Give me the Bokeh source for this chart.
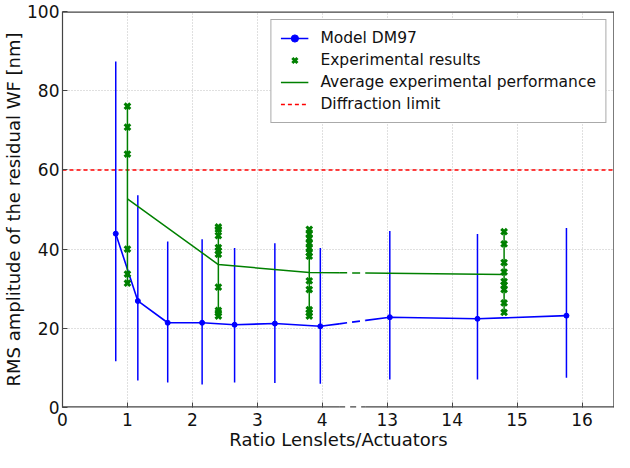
from bokeh.plotting import figure
from bokeh.models import FixedTicker, Legend, LegendItem, Range1d, Span
from bokeh.embed import file_html
from bokeh.resources import INLINE

# ---------------- data ----------------
TICK_VALUES = [0, 1, 2, 3, 4, 13, 14, 15, 16]
TICK_LABELS = ["0", "1", "2", "3", "4", "13", "14", "15", "16"]
Y_TICKS = [0, 20, 40, 60, 80, 100]

model_x = [0.82, 1.16, 1.62, 2.15, 2.65, 3.27, 3.97, 13.04, 14.39, 15.76]
model_y = [43.9, 26.9, 21.4, 21.4, 20.9, 21.2, 20.5, 22.8, 22.4, 23.2]
model_hi = [87.4, 53.6, 41.9, 42.5, 40.3, 41.5, 40.3, 44.6, 43.8, 45.3]
model_lo = [11.7, 6.8, 6.3, 5.8, 6.3, 6.2, 6.0, 7.1, 7.1, 7.5]

exp_x = [1.0, 2.4, 3.8, 14.8]
exp_values = [
    [76.1, 70.8, 64.0, 40.0, 33.7, 31.4],
    [45.6, 45.0, 43.4, 40.4, 39.6, 38.7, 30.4, 24.5, 23.9, 23.1],
    [45.0, 43.8, 42.7, 41.5, 40.3, 39.1, 38.2, 32.0, 29.8, 24.7, 23.9, 23.1],
    [44.4, 41.3, 36.6, 34.2, 31.8, 30.9, 29.8, 26.4, 24.0],
]
avg_y = [52.7, 36.1, 34.1, 33.6]

DIFFRACTION_LIMIT = 60

# broken x axis: real x up to BREAK_LEFT shown as-is, real x from BREAK_RIGHT shifted left
BREAK_LEFT = 4.26
BREAK_RIGHT = 12.67
SHIFT = 8
X_MAX = 16.5

# ---------------- helpers ----------------
def pos(x):
    return x if x <= BREAK_LEFT else x - SHIFT

GAP_LO = BREAK_LEFT
GAP_HI = BREAK_RIGHT - SHIFT
X_END = X_MAX - SHIFT


def split(xs, ys):
    px = [pos(x) for x in xs]
    left = [(a, b) for a, b in zip(px, ys) if a <= GAP_LO]
    right = [(a, b) for a, b in zip(px, ys) if a >= GAP_HI]
    (x0, y0), (x1, y1) = left[-1], right[0]
    ya = y0 + (y1 - y0) * (GAP_LO - x0) / (x1 - x0)
    yb = y0 + (y1 - y0) * (GAP_HI - x0) / (x1 - x0)
    left = left + [(GAP_LO, ya)]
    right = [(GAP_HI, yb)] + right
    dashed = [(GAP_LO, ya), (GAP_HI, yb)]
    unz = lambda pts: ([p[0] for p in pts], [p[1] for p in pts])
    return unz(left), unz(dashed), unz(right)


FONT = "DejaVu Sans"
BLUE = "#0000ff"
GREEN = "#008000"
SPINE = "#444444"

p = figure(width=614, height=452, output_backend="svg", toolbar_location=None,
           x_range=Range1d(0, X_END), y_range=Range1d(0, 100),
           min_border_top=11, min_border_right=0, min_border_left=0, min_border_bottom=0)
p.outline_line_color = None
p.background_fill_color = "white"
p.border_fill_color = "white"

# axes
p.xaxis.ticker = FixedTicker(ticks=[pos(t) for t in TICK_VALUES])
p.xaxis.major_label_overrides = {pos(t): lab for t, lab in zip(TICK_VALUES, TICK_LABELS)}
p.yaxis.ticker = FixedTicker(ticks=Y_TICKS)
p.xaxis.axis_label = "Ratio Lenslets/Actuators"
p.yaxis.axis_label = "RMS amplitude of the residual WF [nm]"
for ax in (p.xaxis, p.yaxis):
    ax.axis_label_text_font = FONT
    ax.axis_label_text_font_size = "18px"
    ax.axis_label_text_font_style = "normal"
    ax.axis_label_text_color = "#111111"
    ax.major_label_text_font = FONT
    ax.major_label_text_font_size = "17px"
    ax.major_label_text_color = "#111111"
    ax.major_tick_in = 5
    ax.major_tick_out = 0
    ax.major_tick_line_color = SPINE
    ax.minor_tick_line_color = None
    ax.axis_label_standoff = 0
    ax.major_label_standoff = 3
p.xaxis.axis_line_color = None
p.yaxis.axis_line_color = SPINE
p.yaxis.axis_line_width = 1.2
p.xaxis.major_label_standoff = 5

p.xgrid.ticker = p.xaxis.ticker
p.ygrid.ticker = p.yaxis.ticker
for g in (p.xgrid, p.ygrid):
    g.grid_line_color = "#c0c0c0"
    g.grid_line_dash = "1 2"
    g.grid_line_width = 1

# spines (top, right, broken bottom)
p.add_layout(Span(location=100, dimension="width", line_color=SPINE, line_width=2.4))
p.add_layout(Span(location=X_END, dimension="height", line_color=SPINE, line_width=2.4))
p.line([0, GAP_LO], [0, 0], line_color=SPINE, line_width=2.4)
p.line([GAP_LO, GAP_HI], [0, 0], line_color=SPINE, line_width=2.4, line_dash="6 5")
p.line([GAP_HI, X_END], [0, 0], line_color=SPINE, line_width=2.4)

# diffraction limit
r_diff = p.line([0, X_END], [DIFFRACTION_LIMIT, DIFFRACTION_LIMIT], line_color="red",
                line_width=1.5, line_dash="4 3")

# model error bars
mpx = [pos(x) for x in model_x]
p.segment(x0=mpx, y0=model_lo, x1=mpx, y1=model_hi, line_color=BLUE, line_width=1.5)

# model line
(lx, ly), (dx, dy), (rx, ry) = split(model_x, model_y)
r_model_l = p.line(lx, ly, line_color=BLUE, line_width=1.6)
p.line(dx, dy, line_color=BLUE, line_width=1.6, line_dash="8 5")
p.line(rx, ry, line_color=BLUE, line_width=1.6)
r_model_pts = p.scatter(mpx, model_y, size=5, color=BLUE)

# experimental: vertical spans + average line
epx = [pos(x) for x in exp_x]
p.segment(x0=epx, y0=[min(v) for v in exp_values], x1=epx, y1=[max(v) for v in exp_values],
          line_color=GREEN, line_width=1.5)
(lx, ly), (dx, dy), (rx, ry) = split(exp_x, avg_y)
r_avg = p.line(lx, ly, line_color=GREEN, line_width=1.5)
p.line(dx, dy, line_color=GREEN, line_width=1.5, line_dash="8 5")
p.line(rx, ry, line_color=GREEN, line_width=1.5)

sx, sy = [], []
for x, vals in zip(epx, exp_values):
    for v in vals:
        sx.append(x)
        sy.append(v)
r_exp = p.scatter(sx, sy, marker="x", size=8, line_width=3, color=GREEN)

legend = Legend(items=[
    LegendItem(label="Model DM97", renderers=[r_model_l, r_model_pts]),
    LegendItem(label="Experimental results", renderers=[r_exp]),
    LegendItem(label="Average experimental performance", renderers=[r_avg]),
    LegendItem(label="Diffraction limit", renderers=[r_diff]),
], location="top_right")
legend.label_text_font = FONT
legend.label_text_font_size = "15.5px"
legend.label_text_color = "#111111"
legend.border_line_color = "#555555"
legend.border_line_width = 1
legend.background_fill_alpha = 1
legend.glyph_width = 28
legend.glyph_height = 18
legend.label_standoff = 12
legend.spacing = 4
legend.padding = 9
legend.margin = 8
p.add_layout(legend)

open("out.html", "w").write(file_html(p, INLINE))
